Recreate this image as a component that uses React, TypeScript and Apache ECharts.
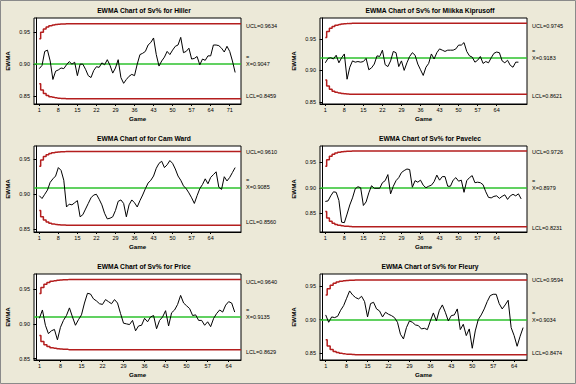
import React, { useEffect, useRef } from 'react';
import * as echarts from 'echarts';

const titles = [
  'EWMA Chart of Sv% for Hiller',
  'EWMA Chart of Sv% for Miikka Kiprusoff',
  'EWMA Chart of for Cam Ward',
  'EWMA Chart of Sv% for Pavelec',
  'EWMA Chart of Sv% for Price',
  'EWMA Chart of Sv% for Fleury',
];

const hiller = [
  0.893, 0.898, 0.920, 0.922, 0.905, 0.876, 0.889, 0.891, 0.894, 0.893,
  0.899, 0.904, 0.900, 0.903, 0.882, 0.900, 0.900, 0.892, 0.882, 0.879,
  0.890, 0.896, 0.895, 0.902, 0.899, 0.907, 0.898, 0.886, 0.894, 0.907,
  0.879, 0.870, 0.876, 0.881, 0.884, 0.882, 0.900, 0.915, 0.917, 0.920,
  0.930, 0.934, 0.941, 0.915, 0.897, 0.905, 0.911, 0.920, 0.915, 0.922,
  0.928, 0.930, 0.942, 0.918, 0.920, 0.925, 0.908, 0.909, 0.912, 0.899,
  0.908, 0.906, 0.913, 0.913, 0.930, 0.930, 0.929, 0.925, 0.919, 0.928,
  0.920, 0.905, 0.887,
];
const kiprusoff = [
  0.912, 0.919, 0.920, 0.918, 0.924, 0.912, 0.920, 0.926, 0.886, 0.905,
  0.915, 0.913, 0.914, 0.913, 0.914, 0.919, 0.901, 0.904, 0.910, 0.923,
  0.922, 0.932, 0.909, 0.906, 0.915, 0.930, 0.928, 0.906, 0.915, 0.900,
  0.912, 0.922, 0.928, 0.924, 0.910, 0.901, 0.892, 0.905, 0.911, 0.926,
  0.918, 0.928, 0.934, 0.932, 0.930, 0.932, 0.932, 0.932, 0.934, 0.940,
  0.940, 0.944, 0.930, 0.923, 0.921, 0.913, 0.916, 0.922, 0.911, 0.914,
  0.912, 0.920, 0.927, 0.929, 0.928, 0.915, 0.912, 0.916, 0.908, 0.905,
  0.913, 0.913,
];
const camWard = [
  0.898, 0.894, 0.900, 0.906, 0.917, 0.922, 0.926, 0.938, 0.934, 0.920,
  0.882, 0.886, 0.885, 0.888, 0.891, 0.868, 0.871, 0.879, 0.887, 0.895,
  0.899, 0.900, 0.893, 0.885, 0.873, 0.865, 0.866, 0.868, 0.877, 0.890,
  0.892, 0.887, 0.868, 0.885, 0.892, 0.888, 0.882, 0.891, 0.899, 0.908,
  0.916, 0.920, 0.926, 0.937, 0.944, 0.947, 0.938, 0.942, 0.948, 0.944,
  0.936, 0.926, 0.920, 0.912, 0.908, 0.902, 0.895, 0.887, 0.898, 0.908,
  0.914, 0.922, 0.915, 0.924, 0.928, 0.932, 0.910, 0.907, 0.925, 0.919,
  0.924, 0.931, 0.938,
];
const pavelec = [
  0.873, 0.874, 0.884, 0.892, 0.891, 0.875, 0.832, 0.831, 0.848, 0.866,
  0.880, 0.898, 0.902, 0.900, 0.865, 0.872, 0.890, 0.904, 0.899, 0.899,
  0.899, 0.910, 0.914, 0.926, 0.888, 0.903, 0.914, 0.920, 0.930, 0.934,
  0.937, 0.936, 0.901, 0.914, 0.911, 0.915, 0.905, 0.900, 0.903, 0.905,
  0.912, 0.925, 0.915, 0.922, 0.922, 0.903, 0.903, 0.915, 0.920, 0.913,
  0.915, 0.891, 0.914, 0.920, 0.924, 0.910, 0.911, 0.910, 0.906, 0.892,
  0.881, 0.880, 0.883, 0.884, 0.879, 0.883, 0.886, 0.877, 0.884, 0.887,
  0.884, 0.888, 0.878,
];
const price = [
  0.908, 0.920, 0.898, 0.886, 0.890, 0.892, 0.877, 0.895, 0.905, 0.912,
  0.923, 0.910, 0.898, 0.906, 0.913, 0.930, 0.944, 0.943, 0.936, 0.933,
  0.929, 0.928, 0.935, 0.932, 0.929, 0.935, 0.930, 0.915, 0.901, 0.900,
  0.899, 0.905, 0.890, 0.897, 0.898, 0.908, 0.903, 0.910, 0.912, 0.893,
  0.905, 0.910, 0.919, 0.897, 0.916, 0.920, 0.928, 0.941, 0.930, 0.926,
  0.922, 0.912, 0.913, 0.905, 0.905, 0.898, 0.903, 0.896, 0.908, 0.915,
  0.920, 0.917, 0.927, 0.932, 0.930, 0.917,
];
const fleury = [
  0.907, 0.896, 0.904, 0.903, 0.905, 0.914, 0.921, 0.932, 0.943, 0.937,
  0.933, 0.931, 0.935, 0.927, 0.904, 0.924, 0.926, 0.916, 0.913, 0.904,
  0.911, 0.908, 0.906, 0.903, 0.896, 0.878, 0.871, 0.888, 0.898, 0.896,
  0.892, 0.891, 0.886, 0.887, 0.885, 0.898, 0.910, 0.898, 0.914, 0.922,
  0.911, 0.898, 0.906, 0.907, 0.916, 0.885, 0.893, 0.876, 0.886, 0.857,
  0.883, 0.900, 0.907, 0.916, 0.927, 0.936, 0.938, 0.938, 0.924, 0.916,
  0.922, 0.929, 0.888, 0.876, 0.860, 0.875, 0.888,
];
const seriesData = [hiller, kiprusoff, camWard, pavelec, price, fleury];

const centers = [0.9047, 0.9183, 0.9085, 0.8979, 0.9135, 0.9034];
const ucls = [0.9634, 0.9745, 0.961, 0.9726, 0.964, 0.9594];
const lcls = [0.8459, 0.8621, 0.856, 0.8231, 0.8629, 0.8474];

// widening limits over the first games
const uclStart = [
  [0.9399, 0.9498, 0.9551, 0.9582, 0.9602, 0.9613, 0.9621, 0.9626, 0.9629, 0.963],
  [0.952, 0.9615, 0.9666, 0.9696, 0.9714, 0.9725, 0.9733, 0.9737, 0.974, 0.9742],
  [0.94, 0.9488, 0.9536, 0.9564, 0.9581, 0.9592, 0.9598, 0.9603, 0.9605, 0.9607],
  [0.9427, 0.9553, 0.9621, 0.966, 0.9685, 0.97, 0.971, 0.9716, 0.9719, 0.9722],
  [0.9438, 0.9523, 0.9569, 0.9596, 0.9612, 0.9622, 0.9629, 0.9633, 0.9635, 0.9637],
  [0.937, 0.9464, 0.9515, 0.9545, 0.9563, 0.9574, 0.9582, 0.9586, 0.9589, 0.9591],
];
const lclStart = [
  [0.8694, 0.8595, 0.8542, 0.8511, 0.8491, 0.848, 0.8472, 0.8467, 0.8464, 0.8463],
  [0.8846, 0.8751, 0.87, 0.867, 0.8652, 0.8641, 0.8633, 0.8629, 0.8626, 0.8624],
  [0.877, 0.8682, 0.8634, 0.8606, 0.8589, 0.8578, 0.8572, 0.8567, 0.8565, 0.8563],
  [0.8531, 0.8405, 0.8337, 0.8298, 0.8273, 0.8258, 0.8248, 0.8242, 0.8239, 0.8236],
  [0.8832, 0.8747, 0.8701, 0.8674, 0.8658, 0.8648, 0.8641, 0.8637, 0.8635, 0.8633],
  [0.8698, 0.8604, 0.8553, 0.8523, 0.8505, 0.8494, 0.8486, 0.8482, 0.8479, 0.8477],
];

const yMins = [0.8376, 0.8468, 0.8464, 0.8126, 0.848, 0.8394];
const yMaxs = [0.9723, 0.9829, 0.9687, 0.9825, 0.9718, 0.9684];
const xMins = [-0.95, -0.95, -0.95, -0.95, -0.8, -0.9];
const xMaxs = [75.15, 75.15, 75.15, 75.15, 68.1, 68.3];

const yTicks = [0.85, 0.9, 0.95];
const xTicksLong = [1, 8, 15, 22, 29, 36, 43, 50, 57, 64, 71];
const xTicksShort = [1, 8, 15, 22, 29, 36, 43, 50, 57, 64];
const xTicks = [xTicksLong, xTicksShort, xTicksShort, xTicksShort, xTicksShort, xTicksShort];

const FONT = 'Liberation Sans, Arial, sans-serif';
const RED = '#b41e1e';
const GREEN = '#2dc22d';

export default function App() {
  const ref = useRef<HTMLDivElement>(null);
  useEffect(() => {
    if (!ref.current) return;
    const chart = echarts.init(ref.current, undefined, { renderer: 'svg' });
    const grids: any[] = [];
    const xAxes: any[] = [];
    const yAxes: any[] = [];
    const series: any[] = [];
    const graphics: any[] = [];
    for (let k = 0; k < 6; k++) {
      const c = k % 2;
      const r = Math.floor(k / 2);
      const left = 34 + 286 * c;
      const top = 18 + 128 * r;
      grids.push({
        left, top, width: 207, height: 86,
        show: true, backgroundColor: '#ffffff', borderColor: '#000', borderWidth: 1,
      });
      xAxes.push({
        type: 'value', gridIndex: k, min: xMins[k], max: xMaxs[k],
        name: 'Game', nameLocation: 'middle', nameGap: 11,
        nameTextStyle: { fontSize: 6.2, fontWeight: 'bold', fontFamily: FONT, color: '#000' },
        axisLine: { show: true, lineStyle: { color: '#000', width: 1 } },
        axisTick: { show: true, length: 2, customValues: xTicks[k], lineStyle: { color: '#000' } },
        axisLabel: { customValues: xTicks[k], fontSize: 5.5, fontFamily: FONT, color: '#000', margin: 3, formatter: (v: number) => String(v) },
        splitLine: { show: false },
      });
      yAxes.push({
        type: 'value', gridIndex: k, min: yMins[k], max: yMaxs[k],
        name: 'EWMA', nameLocation: 'middle', nameGap: 24, nameRotate: 90,
        nameTextStyle: { fontSize: 6.2, fontWeight: 'bold', fontFamily: FONT, color: '#000' },
        axisLine: { show: true, lineStyle: { color: '#000', width: 1 } },
        axisTick: { show: true, length: 3, customValues: yTicks, lineStyle: { color: '#000' } },
        axisLabel: { customValues: yTicks, fontSize: 5.5, fontFamily: FONT, color: '#000', margin: 4, formatter: (v: number) => v.toFixed(2) },
        splitLine: { show: false },
      });
      const uclData = [...uclStart[k].map((v, i) => [i + 1, v]), [11, ucls[k]], [xMaxs[k], ucls[k]]];
      const lclData = [...lclStart[k].map((v, i) => [i + 1, v]), [11, lcls[k]], [xMaxs[k], lcls[k]]];
      series.push({
        type: 'line', xAxisIndex: k, yAxisIndex: k, step: 'middle', data: uclData,
        symbol: 'none', lineStyle: { color: RED, width: 1.5 }, silent: true,
      });
      series.push({
        type: 'line', xAxisIndex: k, yAxisIndex: k, step: 'middle', data: lclData,
        symbol: 'none', lineStyle: { color: RED, width: 1.5 }, silent: true,
      });
      const labelStyle = { show: true, position: 'end', distance: 5, fontSize: 5.5, fontFamily: FONT, color: '#000', align: 'left', lineHeight: 7 };
      series.push({
        type: 'line', xAxisIndex: k, yAxisIndex: k,
        data: seriesData[k].map((v, i) => [i + 1, v]),
        symbol: 'none', lineStyle: { color: '#000', width: 1 }, silent: true, z: 5,
        markLine: {
          silent: true, symbol: ['none', 'none'], animation: false,
          data: [
            { yAxis: ucls[k], lineStyle: { color: 'rgba(0,0,0,0)', width: 0 }, label: { ...labelStyle, formatter: 'UCL=' + ucls[k].toFixed(4) } },
            { yAxis: centers[k], lineStyle: { color: GREEN, width: 1.5, type: 'solid' }, label: { ...labelStyle, formatter: '=\nX=' + centers[k].toFixed(4) + '\n ' } },
            { yAxis: lcls[k], lineStyle: { color: 'rgba(0,0,0,0)', width: 0 }, label: { ...labelStyle, formatter: 'LCL=' + lcls[k].toFixed(4) } },
          ],
        },
      });
      graphics.push({
        type: 'text', x: 144 + 286 * c, y: 10 + 128 * r,
        style: { text: titles[k], fill: '#000', font: `bold 6.7px ${FONT}`, align: 'center', verticalAlign: 'middle' },
      });
    }
    graphics.push({
      type: 'rect', shape: { x: 0.5, y: 0.5, width: 575, height: 383 },
      style: { fill: 'none', stroke: '#8a8a8a', lineWidth: 1 }, silent: true,
    });
    chart.setOption({
      animation: false,
      backgroundColor: '#ECE9D8',
      grid: grids,
      xAxis: xAxes,
      yAxis: yAxes,
      series,
      graphic: graphics,
    });
    return () => chart.dispose();
  }, []);
  return <div ref={ref} style={{ position: 'absolute', left: 0, top: 0, width: 576, height: 384 }} />;
}
